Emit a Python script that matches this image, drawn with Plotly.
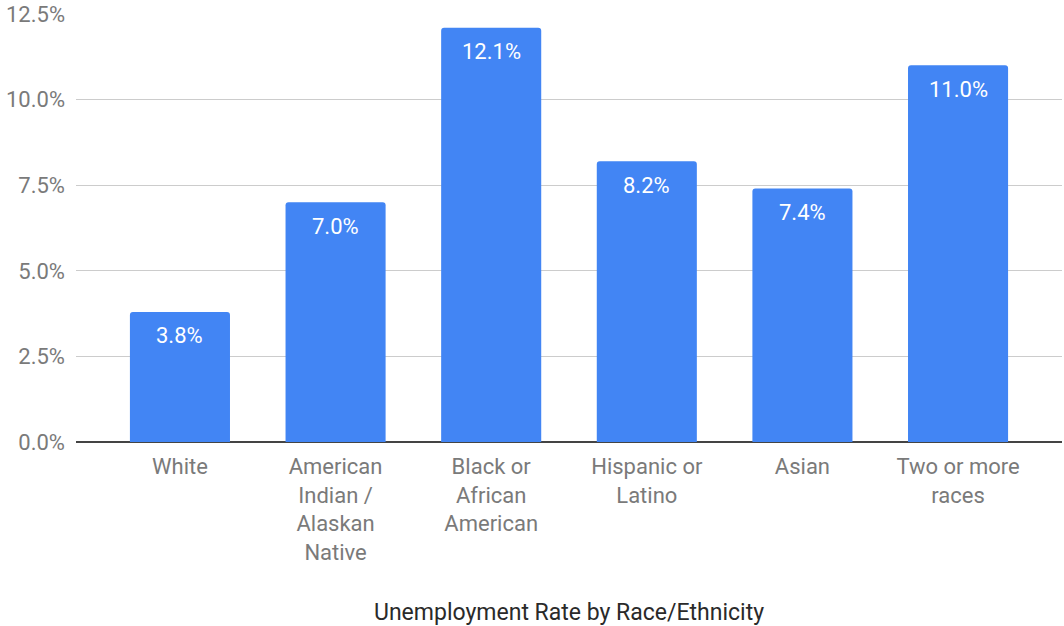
import plotly.graph_objects as go

categories = ["White", "American<br>Indian /<br>Alaskan<br>Native", "Black or<br>African<br>American",
              "Hispanic or<br>Latino", "Asian", "Two or more<br>races"]
rates = [3.8, 7.0, 12.1, 8.2, 7.4, 11.0]
y_ticks = [0, 2.5, 5.0, 7.5, 10.0, 12.5]
x_title = "Unemployment Rate by Race/Ethnicity"

FONT = "Roboto"
BAR = "#4285F4"
SIZE = 22

fig = go.Figure()
fig.add_trace(go.Bar(
    x=list(range(len(categories))), y=rates,
    marker=dict(color=BAR, cornerradius=3, line=dict(width=0)),
    width=0.643, hoverinfo="skip",
))

for i, v in enumerate(rates):
    fig.add_annotation(x=i, y=v, text=f"{v:.1f}%", showarrow=False,
                       xref="x", yref="y", yanchor="middle", yshift=-24,
                       font=dict(family=FONT, size=SIZE, color="#ffffff"))

fig.add_annotation(x=0.5, y=-0.398, xref="paper", yref="paper", text=x_title,
                   showarrow=False, yanchor="middle",
                   font=dict(family=FONT, size=23, color="#2a2a2a"))

fig.update_layout(
    width=1064, height=626,
    margin=dict(l=76, r=2, t=14, b=184, autoexpand=False),
    plot_bgcolor="white", paper_bgcolor="white",
    showlegend=False,
    font=dict(family=FONT, size=SIZE, color="#7a7a7a"),
    xaxis=dict(
        range=[-0.668, 5.668],
        tickmode="array", tickvals=list(range(len(categories))), ticktext=categories,
        showgrid=False, zeroline=False, showline=False, ticks="",
        ticklabelstandoff=9,
        tickfont=dict(family=FONT, size=SIZE, color="#7a7a7a"),
        fixedrange=True,
    ),
    yaxis=dict(
        range=[0, 12.5],
        tickmode="array", tickvals=y_ticks, ticktext=[f"{t:.1f}%" for t in y_ticks],
        showgrid=True, gridcolor="#cccccc", gridwidth=1,
        zeroline=True, zerolinecolor="#444444", zerolinewidth=1.5,
        showline=False, ticks="", ticklabelstandoff=10,
        tickfont=dict(family=FONT, size=SIZE, color="#7a7a7a"),
        fixedrange=True,
    ),
)

fig.write_html("out.html", config={"displayModeBar": False},
               post_script="document.body.style.margin='0';document.body.style.overflow='hidden';")
